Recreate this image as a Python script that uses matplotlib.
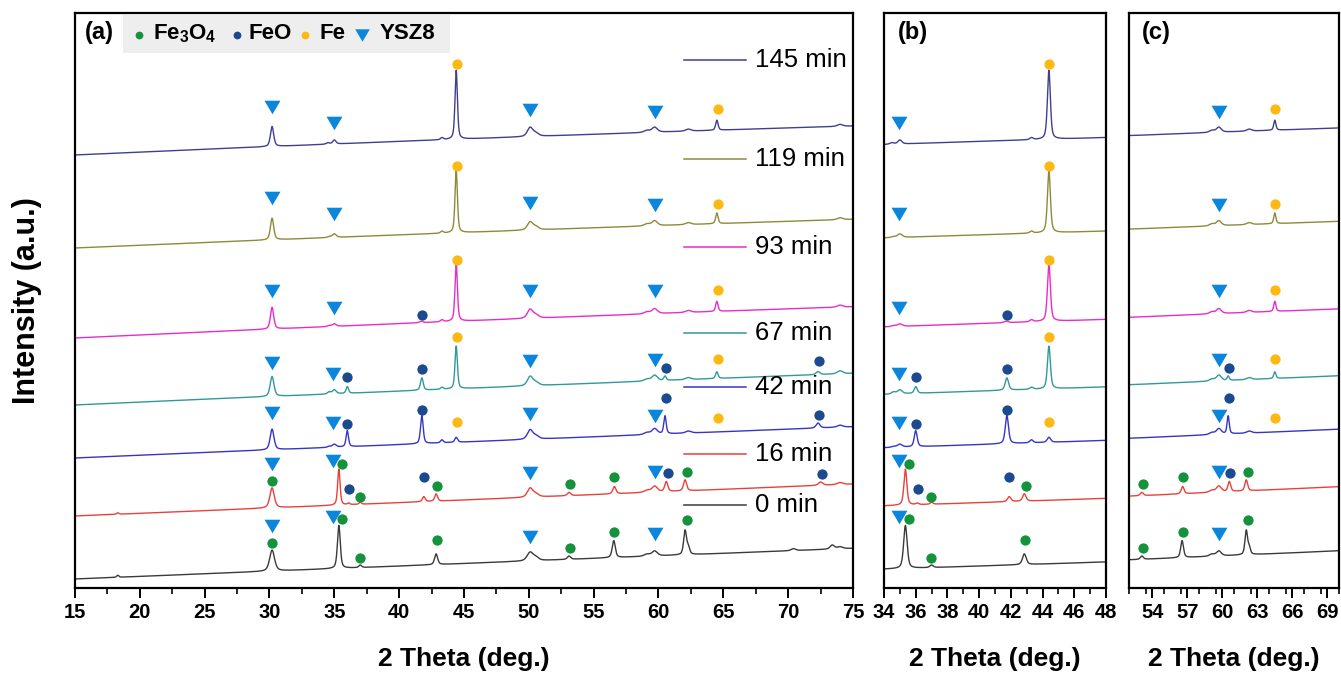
import numpy as np
import matplotlib.pyplot as plt
from matplotlib.path import Path
from matplotlib.patches import Rectangle

plt.rcParams['font.family'] = ['Liberation Sans', 'DejaVu Sans']
plt.rcParams['font.weight'] = 'bold'
plt.rcParams['axes.labelweight'] = 'bold'
plt.rcParams['mathtext.fontset'] = 'custom'
plt.rcParams['mathtext.rm'] = 'Liberation Sans:bold'
plt.rcParams['mathtext.bf'] = 'Liberation Sans:bold'
plt.rcParams['mathtext.it'] = 'Liberation Sans:bold:italic'
plt.rcParams['mathtext.default'] = 'rm'

two_theta = np.linspace(15, 75, 6001)

samples = ['0 min', '16 min', '42 min', '67 min', '93 min', '119 min', '145 min']
colors = ['#3a3a3a', '#e8413c', '#3535c8', '#30999a', '#e82ccc', '#8e8a3a', '#3f3f8f']

# background level (stacked) at 15, 45 and 75 deg
bg_angles = [15, 45, 75]
bg_levels = [
    [9.0, 24.5, 39.7],
    [72.0, 88.0, 104.0],
    [130.0, 146.0, 161.3],
    [183.0, 199.5, 214.7],
    [250.0, 267.0, 281.3],
    [340.0, 355.5, 368.7],
    [433.0, 449.0, 462.0],
]

# reflections: (2theta, height, fwhm)
peaks_0 = [(18.3, 2.0, 0.20), (30.2, 21.0, 0.45), (35.35, 43.0, 0.26), (37.0, 2.5, 0.25),
           (42.85, 10.7, 0.28), (50.1, 8.5, 0.55), (50.55, 3.0, 0.5), (53.1, 3.3, 0.3),
           (56.55, 17.0, 0.28), (59.1, 2.0, 0.5), (59.7, 5.0, 0.5), (62.05, 24.0, 0.26),
           (62.3, 7.0, 0.25), (70.4, 2.0, 0.4), (73.4, 4.0, 0.4), (74.0, 2.0, 0.5)]
peaks_16 = [(18.3, 1.5, 0.20), (30.2, 20.0, 0.40), (35.35, 36.0, 0.22), (36.1, 1.5, 0.2),
            (37.0, 2.0, 0.2), (41.9, 5.0, 0.25), (42.85, 7.3, 0.25), (50.1, 9.0, 0.5),
            (50.55, 3.0, 0.5), (53.1, 3.3, 0.3), (56.6, 7.3, 0.28), (59.1, 2.0, 0.5),
            (59.7, 6.0, 0.5), (60.6, 10.0, 0.28), (62.05, 11.0, 0.28), (72.5, 3.3, 0.4),
            (74.0, 2.0, 0.5)]
peaks_42 = [(30.2, 20.7, 0.35), (34.6, 1.0, 0.3), (35.0, 3.0, 0.35), (36.0, 16.0, 0.22),
            (41.75, 28.3, 0.24), (43.3, 3.0, 0.25), (44.4, 5.0, 0.25), (50.1, 9.3, 0.5),
            (50.55, 3.0, 0.5), (59.1, 2.0, 0.5), (59.7, 5.7, 0.5), (60.5, 18.0, 0.22),
            (62.3, 2.0, 0.5), (72.3, 5.0, 0.35), (74.0, 2.0, 0.5)]
peaks_67 = [(30.2, 20.0, 0.35), (34.6, 2.0, 0.3), (35.0, 4.0, 0.35), (36.0, 6.7, 0.22),
            (41.75, 12.3, 0.25), (43.3, 2.0, 0.25), (44.4, 42.7, 0.22), (50.1, 9.3, 0.5),
            (50.55, 3.0, 0.5), (59.1, 2.0, 0.5), (59.7, 5.7, 0.5), (60.5, 4.3, 0.22),
            (62.3, 2.0, 0.5), (64.5, 6.7, 0.22), (72.3, 3.0, 0.35), (74.0, 3.0, 0.5)]
peaks_93 = [(30.2, 21.7, 0.30), (34.6, 1.0, 0.3), (35.0, 2.5, 0.35), (41.7, 1.5, 0.3),
            (43.3, 2.0, 0.25), (44.4, 58.0, 0.22), (50.1, 9.0, 0.5), (50.55, 3.0, 0.5),
            (59.1, 2.0, 0.5), (59.7, 5.0, 0.5), (62.3, 2.0, 0.5), (64.5, 10.0, 0.22),
            (74.0, 2.0, 0.5)]
peaks_119 = [(30.2, 21.7, 0.30), (34.6, 1.0, 0.3), (35.0, 3.5, 0.35), (43.3, 2.0, 0.25),
             (44.4, 62.0, 0.22), (50.1, 8.0, 0.5), (50.55, 3.0, 0.5), (59.1, 2.0, 0.5),
             (59.7, 5.0, 0.5), (62.3, 2.0, 0.5), (64.5, 10.7, 0.22), (74.0, 2.0, 0.5)]
peaks_145 = [(30.2, 20.0, 0.30), (34.5, 1.5, 0.3), (35.0, 4.0, 0.30), (43.3, 2.0, 0.25),
             (44.4, 69.0, 0.22), (50.1, 9.0, 0.5), (50.55, 3.0, 0.5), (59.1, 2.0, 0.5),
             (59.7, 5.0, 0.5), (62.3, 2.0, 0.5), (64.5, 10.0, 0.22), (74.0, 2.0, 0.5)]
peak_tables = [peaks_0, peaks_16, peaks_42, peaks_67, peaks_93, peaks_119, peaks_145]

# phase assignments: (phase, 2theta, gap above local maximum)
marks_0 = [('Fe3O4', 30.2, 6.7), ('YSZ', 30.2, 24), ('YSZ', 34.92, 8.3), ('Fe3O4', 35.6, 6.7),
           ('Fe3O4', 36.98, 7.3), ('Fe3O4', 42.9, 14), ('YSZ', 50.09, 15), ('Fe3O4', 53.17, 7.7),
           ('Fe3O4', 56.6, 9), ('YSZ', 59.7, 16.7), ('Fe3O4', 62.17, 9.7)]
marks_16 = [('Fe3O4', 30.2, 6.6), ('YSZ', 30.2, 24.3), ('YSZ', 34.92, 8), ('Fe3O4', 35.6, 5.6),
            ('FeO', 36.15, 13.7), ('Fe3O4', 36.98, 5.5), ('FeO', 41.9, 20), ('Fe3O4', 42.94, 7.3),
            ('YSZ', 50.09, 15), ('Fe3O4', 53.17, 8.3), ('Fe3O4', 56.6, 9), ('YSZ', 59.7, 14),
            ('FeO', 60.7, 8.7), ('Fe3O4', 62.2, 7.4), ('FeO', 72.59, 7.7)]
marks_42 = [('YSZ', 30.2, 16), ('YSZ', 34.92, 21), ('FeO', 36.0, 6.4), ('FeO', 41.73, 5.7),
            ('Fe', 44.43, 15), ('YSZ', 50.09, 15.7), ('YSZ', 59.7, 12.7), ('FeO', 60.55, 17.7),
            ('Fe', 64.55, 14), ('FeO', 72.4, 8.4)]
marks_67 = [('YSZ', 30.2, 13.4), ('YSZ', 34.92, 16), ('FeO', 36.0, 10), ('FeO', 41.73, 9.3),
            ('Fe', 44.43, 9.4), ('YSZ', 50.09, 15), ('YSZ', 59.7, 15), ('FeO', 60.6, 7.4),
            ('Fe', 64.55, 12.3), ('FeO', 72.4, 10.8)]
marks_93 = [('YSZ', 30.2, 16), ('YSZ', 34.97, 16), ('FeO', 41.73, 6), ('Fe', 44.43, 3.3),
            ('YSZ', 50.09, 17.7), ('YSZ', 59.7, 17.7), ('Fe', 64.55, 11.4)]
marks_119 = [('YSZ', 30.2, 20), ('YSZ', 34.97, 20), ('Fe', 44.43, 4.3), ('YSZ', 50.09, 18.4),
             ('YSZ', 59.7, 15.7), ('Fe', 64.55, 9.4)]
marks_145 = [('YSZ', 30.2, 19), ('YSZ', 34.97, 17), ('Fe', 44.43, 6), ('YSZ', 50.09, 16.6),
             ('YSZ', 59.7, 15), ('Fe', 64.55, 10.7)]
mark_tables = [marks_0, marks_16, marks_42, marks_67, marks_93, marks_119, marks_145]

tri = Path([(-1, 0.85), (1, 0.85), (0, -0.85), (-1, 0.85)])
phase_style = {
    'Fe3O4': dict(marker='o', color='#14923c', ms=7.4),
    'FeO': dict(marker='o', color='#1b4a8e', ms=7.4),
    'Fe': dict(marker='o', color='#fdb913', ms=7.4),
    'YSZ': dict(marker=tri, color='#0a86dd', ms=11.5),
}


def pattern(bg, peaks):
    y = np.polyval(np.polyfit(bg_angles, bg, 2), two_theta)
    for c, h, w in peaks:
        d = 4 * ((two_theta - c) / w) ** 2
        y = y + h * (0.5 / (1 + d) + 0.5 * np.exp(-np.log(2) * d))
    return y


curves = [pattern(bg, pk) for bg, pk in zip(bg_levels, peak_tables)]

fig = plt.figure(figsize=(13.41, 6.74), dpi=100)
ax_a = fig.add_axes([0.0559, 0.1276, 0.5802, 0.8536])
ax_b = fig.add_axes([0.6592, 0.1276, 0.16555, 0.8536])
ax_c = fig.add_axes([0.8419, 0.1276, 0.1566, 0.8536])

panels = [
    (ax_a, (15, 75), np.arange(15, 76, 5), 2.5, '(a)', 0.032),
    (ax_b, (34, 48), np.arange(34, 49, 2), 1.0, '(b)', 0.13),
    (ax_c, (52, 70), np.arange(54, 70, 3), 1.5, '(c)', 0.13),
]

for ax, xlim, ticks, minor, tag, tag_x in panels:
    for y, col, marks in zip(curves, colors, mark_tables):
        ax.plot(two_theta, y, color=col, lw=1.0)
        for phase, x0, gap in marks:
            sel = np.abs(two_theta - x0) <= 0.45
            ax.plot([x0], [y[sel].max() + gap], ls='none', mec='none', **phase_style[phase])
    ax.set_xlim(*xlim)
    ax.set_ylim(0, 575.3)
    ax.set_xticks(ticks)
    ax.set_xticks(np.arange(xlim[0], xlim[1] + 0.01, minor), minor=True)
    ax.set_yticks([])
    ax.tick_params(axis='x', which='major', direction='out', length=7, width=1.4,
                   labelsize=14.5, pad=4)
    ax.tick_params(axis='x', which='minor', direction='out', length=4, width=1.2)
    for s in ax.spines.values():
        s.set_linewidth(1.6)
    ax.set_xlabel('2 Theta (deg.)', fontsize=19)
    ax.xaxis.set_label_coords(0.5, -0.102)
    ax.text(tag_x, 0.9647, tag, transform=ax.transAxes, fontsize=17,
            ha='center', va='center')

ax_a.set_ylabel('Intensity (a.u.)', fontsize=22)
ax_a.yaxis.set_label_coords(-0.042, 0.5)

# phase key
ax_a.add_patch(Rectangle((0.0613, 0.9305), 0.4207, 0.0655, transform=ax_a.transAxes,
                         facecolor='#eeeeee', edgecolor='none', zorder=3))
key = [('Fe3O4', 0.0822, 0.1006, r'Fe$_3$O$_4$'), ('FeO', 0.2078, 0.2228, 'FeO'),
       ('Fe', 0.2956, 0.314, 'Fe'), ('YSZ', 0.3685, 0.392, 'YSZ8')]
for phase, mx, tx, label in key:
    st = dict(phase_style[phase])
    st['ms'] = 5.6 if phase != 'YSZ' else 10.5
    ax_a.plot([mx], [0.9612], transform=ax_a.transAxes, ls='none', mec='none',
              zorder=4, clip_on=False, **st)
    ax_a.text(tx, 0.9632, label, transform=ax_a.transAxes, fontsize=16,
              ha='left', va='center', zorder=4)

# sample legend, each entry next to its pattern
label_y = [0.1443, 0.2329, 0.3499, 0.4427, 0.5933, 0.7452, 0.9178]
for name, col, ly in zip(samples, colors, label_y):
    ax_a.plot([0.783, 0.8625], [ly, ly], transform=ax_a.transAxes, color=col, lw=1.1)
    ax_a.text(0.874, ly, name, transform=ax_a.transAxes, fontsize=18.5,
              fontweight='normal', ha='left', va='center')

fig.savefig('out.png', dpi=100)
